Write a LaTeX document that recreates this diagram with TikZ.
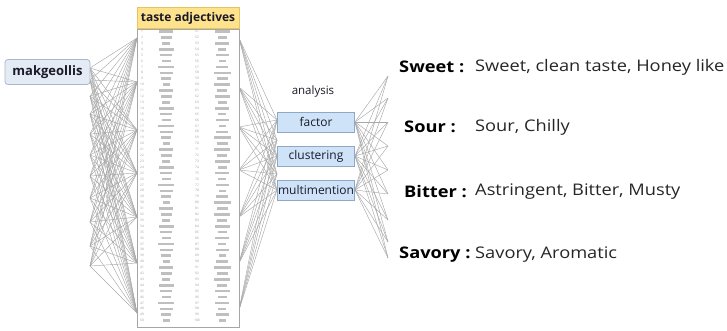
\documentclass[tikz,border=0pt]{standalone}
\usepackage{fontspec}
\setmainfont{Open Sans}
\newfontfamily\widefont[FakeStretch=1.14]{Open Sans}
\definecolor{wirec}{HTML}{A8A8A8}
\definecolor{makfill}{HTML}{E4EBF4}
\definecolor{makdraw}{HTML}{A9B9CD}
\definecolor{afill}{HTML}{CFE3F8}
\definecolor{adraw}{HTML}{8FA8C6}
\definecolor{hfill}{HTML}{FFE28C}
\definecolor{hdraw}{HTML}{E6C462}
\definecolor{txt}{HTML}{1A1A2A}
\begin{document}
\begin{tikzpicture}[x=1pt,y=-1pt,
  wire/.style={draw=wirec, line width=0.45pt},
  mbox/.style={draw=makdraw, fill=makfill, rounded corners=3pt, line width=0.8pt,
    minimum width=85pt, minimum height=25pt, inner sep=0pt, text=txt,
    font=\bfseries\fontsize{13}{14}\selectfont},
  hbox/.style={draw=hdraw, fill=hfill, minimum width=102pt, minimum height=21pt,
    inner sep=0pt, text=txt, font=\bfseries\fontsize{12}{13}\selectfont},
  tbox/.style={draw=gray!70, fill=white, minimum width=102pt, minimum height=298pt,
    inner sep=0pt, line width=0.5pt},
  abox/.style={draw=adraw, fill=afill, line width=0.8pt, minimum width=77pt,
    minimum height=20pt, inner sep=0pt, text=txt, font=\fontsize{12}{13}\selectfont},
  lbl/.style={inner sep=0pt, text=txt, font=\fontsize{11.5}{12}\selectfont},
  cat/.style={inner sep=0pt, anchor=west, text=black, font=\widefont\bfseries\fontsize{16}{18}\selectfont},
  val/.style={inner sep=0pt, anchor=west, text=black!85, font=\widefont\fontsize{16}{18}\selectfont},
  num/.style={inner sep=0pt, text=gray!80, font=\fontsize{3.2}{3.5}\selectfont},
  blob/.style={fill=gray!50}
]
\useasboundingbox (0,0) rectangle (727,330);

% fan coordinates
\foreach \i/\y in {1/68,2/80,3/96,4/114,5/134,6/155,7/176,8/198,9/222,10/246,11/266}
  \coordinate (L\i) at (90,\y);
\foreach \i/\y in {1/38,2/82,3/130,4/173,5/217,6/263,7/313}
  \coordinate (T\i) at (137,\y);
\foreach \i/\y in {1/38,2/87,3/127,4/170,5/217,6/263,7/310}
  \coordinate (R\i) at (239,\y);
\foreach \i/\y in {1/120,2/140,3/156,4/174,5/190}
  \coordinate (A\i) at (277,\y);
\foreach \i/\y in {1/122,2/156,3/190}
  \coordinate (B\i) at (355,\y);
\foreach \i/\y in {1/76,2/98,3/122,4/146,5/170,6/194,7/220,8/242,9/258}
  \coordinate (C\i) at (388,\y);

% wires
\foreach \i in {1,...,11}
  \foreach \j in {1,...,7}
    \draw[wire] (L\i) -- (T\j);
\foreach \i in {1,...,7}
  \foreach \j in {1,...,5}
    \draw[wire] (R\i) -- (A\j);
\foreach \i in {1,...,3}
  \foreach \j in {1,...,9}
    \draw[wire] (B\i) -- (C\j);

% left node
\node[mbox] (mak) at (47.5,72) {makgeollis};

% table
\node[hbox] (hdr) at (188,18) {taste adjectives};
\node[tbox, anchor=north] (tbl) at (hdr.south) {};
\foreach \r in {1,...,50}{
  \pgfmathsetmacro\yy{31.5+(\r-1)*5.9}
  \pgfmathtruncatemacro\rr{\r+50}
  \pgfmathsetmacro\wa{7+mod(\r*7,10)}
  \pgfmathsetmacro\wb{7+mod(\r*5+3,11)}
  \node[num] (na\r) at (142,\yy) {\r};
  \node[num] (nb\r) at (197,\yy) {\rr};
  \fill[blob] (166-\wa/2,\yy-1.3) rectangle (166+\wa/2,\yy+1.3);
  \fill[blob] (222-\wb/2,\yy-1.3) rectangle (222+\wb/2,\yy+1.3);
}

% analysis
\node[lbl] (ana) at (313,92) {analysis};
\node[abox] (fac) at (316,122) {factor};
\node[abox] (clu) at (316,156) {clustering};
\node[abox] (mul) at (316,190) {multimention};

% categories
\node[cat] (sw) at (399,67) {Sweet :};
\node[val] (swv) at (475,67) {Sweet, clean taste, Honey like};
\node[cat] (so) at (404,127) {Sour :};
\node[val] (sov) at (475,127) {Sour, Chilly};
\node[cat] (bi) at (404,192) {Bitter :};
\node[val] (biv) at (475,192) {Astringent, Bitter, Musty};
\node[cat] (sa) at (399,255) {Savory :};
\node[val] (sav) at (475,255) {Savory, Aromatic};
\end{tikzpicture}
\end{document}
